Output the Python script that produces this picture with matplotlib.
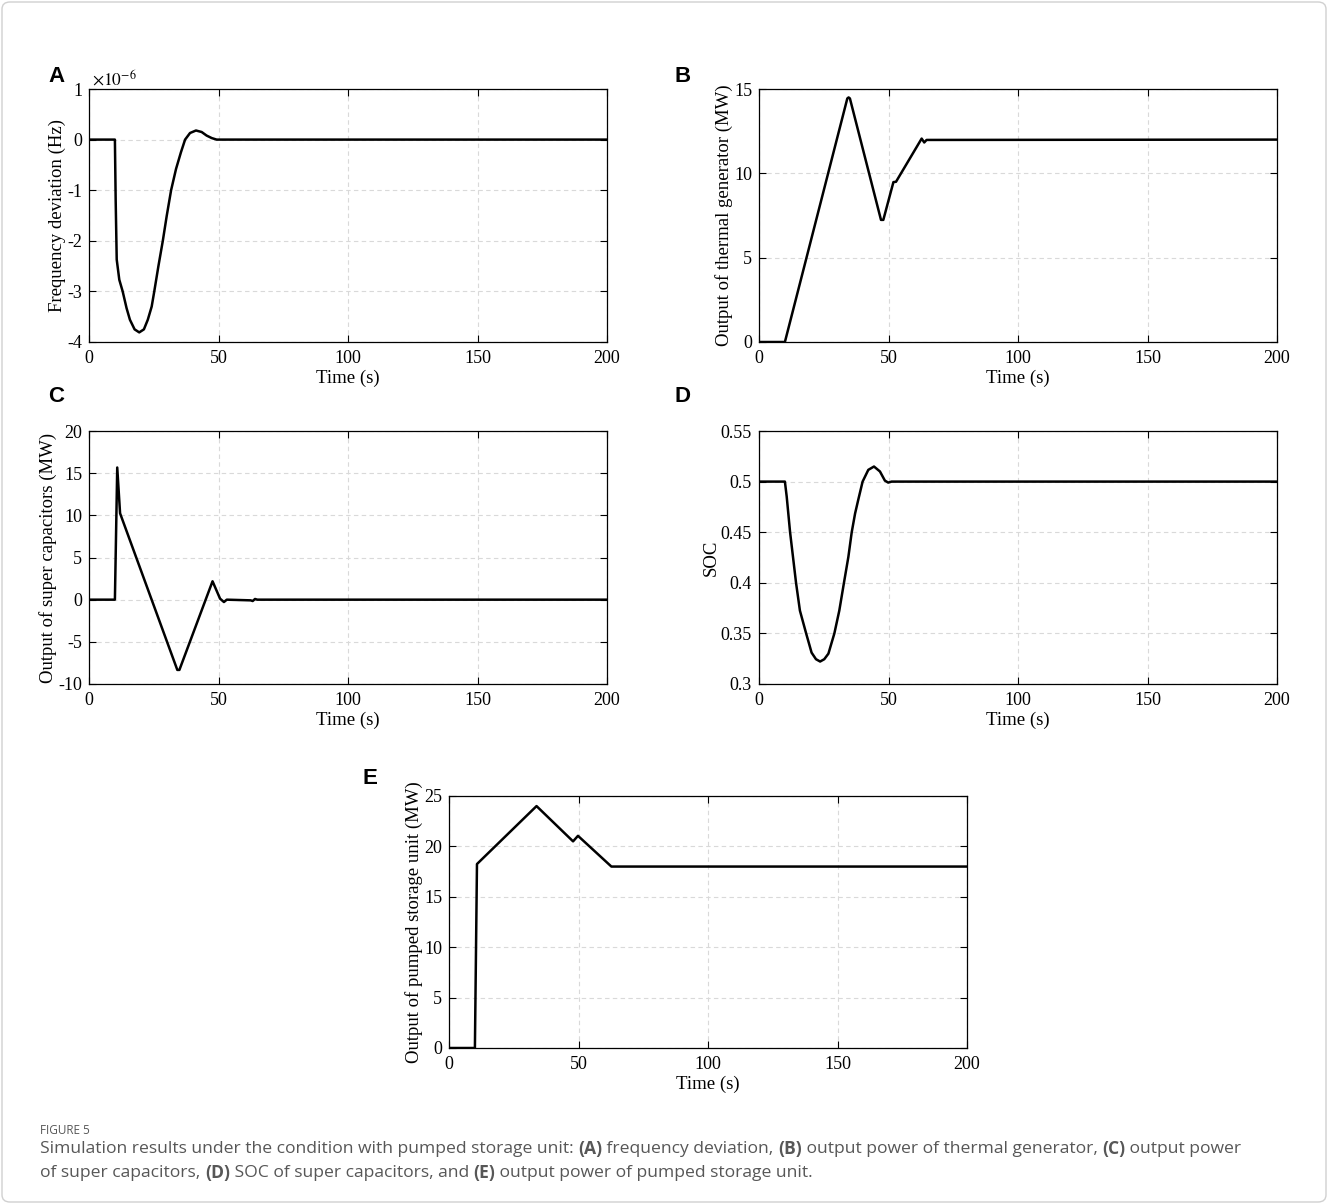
import matplotlib
matplotlib.use('Agg')
import matplotlib.pyplot as plt
from matplotlib.patches import FancyBboxPatch

plt.rcParams['font.family'] = ['Liberation Serif', 'DejaVu Serif']
plt.rcParams['mathtext.fontset'] = 'stix'

# ---- data (time in s) ----
# A: frequency deviation, in units of 1e-6 Hz
t_a = [0, 10.0, 10.3, 10.7, 11.7, 13.0, 14.5, 15.8, 17.6, 19.4, 21.2, 22.7, 24.2, 25.2, 26.8,
       28.5, 30.0, 31.7, 33.6, 35.5, 37.1, 39.0, 41.3, 43.5, 45.4, 47.4, 49.3, 200]
f_a = [0, 0, -1.2, -2.37, -2.77, -3.0, -3.33, -3.56, -3.75, -3.81, -3.75, -3.56, -3.30, -3.0,
       -2.5, -2.0, -1.51, -1.0, -0.58, -0.25, 0, 0.13, 0.18, 0.15, 0.08, 0.03, 0, 0]

# B: output of thermal generator (MW)
t_b = [0, 10.0, 34.1, 34.6, 35.1, 47.1, 48.0, 51.9, 52.9, 62.8, 63.8, 64.7, 200]
p_b = [0, 0, 14.44, 14.5, 14.44, 7.24, 7.24, 9.48, 9.5, 12.06, 11.83, 11.98, 12.0]

# C: output of super capacitors (MW)
t_c = [0, 10.0, 10.9, 12.0, 34.1, 34.9, 47.7, 50.6, 52.1, 53.2, 62.4, 63.2, 64.1, 65.0, 200]
p_c = [0, 0, 15.67, 10.24, -8.33, -8.33, 2.18, 0.12, -0.28, 0, -0.08, -0.16, 0.08, 0, 0]

# D: SOC of super capacitors
t_d = [0, 10.0, 10.7, 12.0, 14.3, 15.8, 18.2, 20.3, 22.0, 23.6, 25.2, 26.8, 29.1, 31.0, 32.8,
       34.5, 35.8, 37.1, 38.3, 40.0, 42.2, 44.4, 46.7, 48.6, 49.9, 51.2, 200]
soc_d = [0.5, 0.5, 0.4851, 0.45, 0.40, 0.3725, 0.35, 0.331, 0.3245, 0.3222, 0.3245, 0.330,
         0.35, 0.3725, 0.40, 0.4255, 0.45, 0.4685, 0.4818, 0.5, 0.5116, 0.5149, 0.510, 0.501,
         0.499, 0.5, 0.5]

# E: output of pumped storage unit (MW)
t_e = [0, 10.0, 10.8, 33.8, 47.9, 49.8, 62.7, 200]
p_e = [0, 0, 18.25, 24.0, 20.5, 21.05, 18.0, 18.0]

ylabels = ['Frequency deviation (Hz)', 'Output of thermal generator (MW)',
           'Output of super capacitors (MW)', 'SOC', 'Output of pumped storage unit (MW)']
letters = ['A', 'B', 'C', 'D', 'E']

W, H = 1328, 1204
fig = plt.figure(figsize=(W / 100, H / 100), dpi=100)

def px_axes(x0, x1, ytop, ybot):
    return fig.add_axes([x0 / W, 1 - ybot / H, (x1 - x0) / W, (ybot - ytop) / H])

ax_a = px_axes(89, 607, 89, 342)
ax_b = px_axes(759, 1277, 89, 342)
ax_c = px_axes(89, 607, 431, 684)
ax_d = px_axes(759, 1277, 431, 684)
ax_e = px_axes(449, 967, 796, 1048)
axes = [ax_a, ax_b, ax_c, ax_d, ax_e]

series = [(t_a, f_a), (t_b, p_b), (t_c, p_c), (t_d, soc_d), (t_e, p_e)]
ylims = [(-4, 1), (0, 15), (-10, 20), (0.3, 0.55), (0, 25)]
yticks = [[-4, -3, -2, -1, 0, 1], [0, 5, 10, 15], [-10, -5, 0, 5, 10, 15, 20],
          [0.3, 0.35, 0.4, 0.45, 0.5, 0.55], [0, 5, 10, 15, 20, 25]]
yticklabels = [['-4', '-3', '-2', '-1', '0', '1'], ['0', '5', '10', '15'],
               ['-10', '-5', '0', '5', '10', '15', '20'],
               ['0.3', '0.35', '0.4', '0.45', '0.5', '0.55'], ['0', '5', '10', '15', '20', '25']]

for ax, (t, y), yl, yt, ytl, lab in zip(axes, series, ylims, yticks, yticklabels, ylabels):
    ax.plot(t, y, color='black', lw=1.8, solid_joinstyle='round')
    ax.set_xlim(0, 200)
    ax.set_ylim(*yl)
    ax.set_xticks([0, 50, 100, 150, 200])
    ax.set_yticks(yt)
    ax.set_yticklabels(ytl)
    ax.grid(True, ls=(0, (4, 3)), color='#d9d9d9', lw=0.8)
    ax.tick_params(direction='in', top=True, right=True, length=5, width=0.8,
                   labelsize=13, pad=5)
    ax.tick_params(axis='x', pad=6)
    for s in ax.spines.values():
        s.set_linewidth(0.9)
    ax.set_xlabel('Time (s)', fontsize=13.5, labelpad=2)
    ax.set_ylabel(lab, fontsize=13.5, labelpad=1)

ax_a.text(0.005, 1.0, r'$\times 10^{-6}$', transform=ax_a.transAxes, fontsize=12.5,
          va='bottom', ha='left')

letter_pos = [(48, 76), (674, 76), (48, 396), (674, 396), (362, 778)]
for L, (x, y) in zip(letters, letter_pos):
    fig.text(x / W, 1 - y / H, L, family='Liberation Sans', weight='bold', fontsize=16,
             va='center', ha='left')

# caption
cap_color = '#575757'
fig.text(40 / W, 1 - 1131 / H, 'FIGURE 5', family='Open Sans', fontsize=8.5,
         color=cap_color, va='center')

renderer = fig.canvas.get_renderer()

def draw_runs(runs, x, y):
    for txt, bold in runs:
        tt = fig.text(x / W, 1 - y / H, txt, family='Open Sans', fontsize=12.6,
                      weight='bold' if bold else 'normal', color=cap_color, va='center')
        bb = tt.get_window_extent(renderer=renderer)
        x += bb.width

line1 = [('Simulation results under the condition with pumped storage unit: ', False),
         ('(A)', True), (' frequency deviation, ', False), ('(B)', True),
         (' output power of thermal generator, ', False), ('(C)', True), (' output power', False)]
line2 = [('of super capacitors, ', False), ('(D)', True), (' SOC of super capacitors, and ', False),
         ('(E)', True), (' output power of pumped storage unit.', False)]
draw_runs(line1, 40, 1149)
draw_runs(line2, 40, 1173)

border = FancyBboxPatch((2 / W, 2 / H), 1 - 4 / W, 1 - 4 / H, boxstyle='round,pad=0,rounding_size=0.006',
                        transform=fig.transFigure, fill=False, edgecolor='#d0d0d0', lw=1.0)
fig.patches.append(border)

fig.savefig('out.png', dpi=100)
